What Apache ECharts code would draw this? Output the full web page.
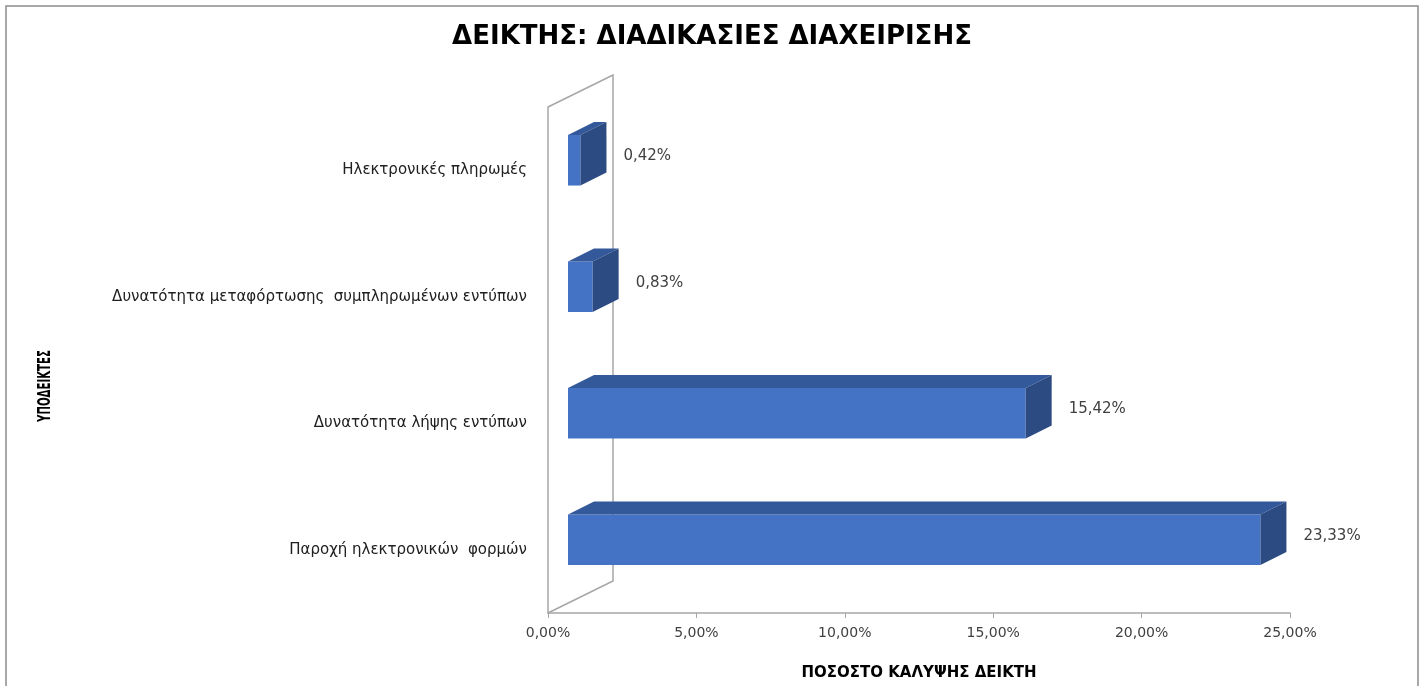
<!DOCTYPE html>
<html>
<head>
<meta charset="utf-8">
<script src="https://cdn.jsdelivr.net/npm/echarts@6/dist/echarts.min.js"></script>
<style>
  html, body { margin: 0; padding: 0; background: #fff; }
  #main { width: 1424px; height: 686px; }
</style>
</head>
<body>
<div id="main"></div>
<script>
// υποδείκτες, από κάτω προς τα πάνω
var categories = [
  'Παροχή ηλεκτρονικών  φορμών',
  'Δυνατότητα λήψης εντύπων',
  'Δυνατότητα μεταφόρτωσης  συμπληρωμένων εντύπων',
  'Ηλεκτρονικές πληρωμές'
];
var values = [23.33, 15.42, 0.83, 0.42];
var xTicks = [0, 5, 10, 15, 20, 25];

var font = 'DejaVu Sans';
var front = '#4472C4';
var topColor = '#34599A';
var sideColor = '#2C4B82';

function pct(v) {
  return v.toFixed(2).replace('.', ',') + '%';
}

var chart = echarts.init(document.getElementById('main'), null, { renderer: 'canvas' });

function renderBar(params, api) {
  var cat = api.value(0);
  var val = api.value(1);
  var p0 = api.coord([0, cat]);
  var p1 = api.coord([val, cat]);
  var band = api.size([0, 1])[1];
  var h = band * 0.4;
  var dx = 26, dy = -13;
  var x = p0[0] + 20;
  var y = p0[1] - 10 - h / 2;
  var w = p1[0] - p0[0];
  return {
    type: 'group',
    children: [
      {
        type: 'rect',
        shape: { x: x, y: y, width: w, height: h },
        style: { fill: front }
      },
      {
        type: 'polygon',
        shape: { points: [[x, y], [x + dx, y + dy], [x + w + dx, y + dy], [x + w, y]] },
        style: { fill: topColor }
      },
      {
        type: 'polygon',
        shape: { points: [[x + w, y], [x + w + dx, y + dy], [x + w + dx, y + h + dy], [x + w, y + h]] },
        style: { fill: sideColor }
      },
      {
        type: 'text',
        x: x + w + dx + 17,
        y: y + h / 2 - 4,
        style: {
          text: pct(val),
          font: '15px "' + font + '"',
          fill: '#404040',
          verticalAlign: 'middle'
        }
      }
    ]
  };
}

chart.setOption({
  animation: false,
  title: {
    text: 'ΔΕΙΚΤΗΣ: ΔΙΑΔΙΚΑΣΙΕΣ ΔΙΑΧΕΙΡΙΣΗΣ',
    left: 'center',
    top: 19,
    textStyle: { fontFamily: font, fontSize: 26, fontWeight: 'bold', color: '#000' }
  },
  grid: { left: 548, right: 134, top: 107, bottom: 69 },
  xAxis: {
    type: 'value',
    min: xTicks[0],
    max: xTicks[xTicks.length - 1],
    interval: 5,
    name: 'ΠΟΣΟΣΤΟ ΚΑΛΥΨΗΣ ΔΕΙΚΤΗ',
    nameLocation: 'middle',
    nameGap: 53,
    nameTextStyle: { fontFamily: font, fontSize: 15, fontWeight: 'bold', color: '#000' },
    axisLine: { show: true, lineStyle: { color: '#a6a6a6', width: 1.5 } },
    axisTick: { show: true, length: 5, lineStyle: { color: '#a6a6a6' } },
    axisLabel: { formatter: pct, fontFamily: font, fontSize: 14, color: '#404040', margin: 13 },
    splitLine: { show: false }
  },
  yAxis: {
    type: 'category',
    data: categories,
    axisLine: { show: true, lineStyle: { color: '#a6a6a6', width: 1.5 } },
    axisTick: { show: false },
    axisLabel: { fontFamily: font, fontSize: 15, color: '#202020', margin: 21 }
  },
  series: [{
    type: 'custom',
    renderItem: renderBar,
    encode: { x: 1, y: 0 },
    data: values.map(function (v, i) { return [i, v]; })
  }]
});

// όνομα άξονα Υ, στενή γραμματοσειρά
var yName = 'ΥΠΟΔΕΙΚΤΕΣ';
var yFont = 'bold 18px "DejaVu Sans Condensed", "DejaVu Sans"';
var ctx = document.createElement('canvas').getContext('2d');
ctx.font = yFont;
var yScale = 72 / ctx.measureText(yName).width;

// τοίχωμα 3Δ και πλαίσιο
var grid = chart.getModel().getComponent('grid').coordinateSystem.getRect();
var x0 = grid.x, yTop = grid.y, yBot = grid.y + grid.height;
chart.setOption({
  graphic: [
    {
      type: 'rect',
      shape: { x: 6, y: 6, width: 1412, height: 700 },
      style: { fill: null, stroke: '#8c8c8c', lineWidth: 1.5 },
      silent: true
    },
    {
      type: 'polyline',
      shape: { points: [[x0, yTop], [x0 + 65, yTop - 32], [x0 + 65, yBot - 32], [x0, yBot]] },
      style: { fill: null, stroke: '#a6a6a6', lineWidth: 1.5 },
      silent: true
    },
    {
      type: 'text',
      x: 45,
      y: 386,
      rotation: Math.PI / 2,
      scaleX: yScale,
      style: {
        text: yName,
        font: yFont,
        fill: '#000',
        align: 'center',
        verticalAlign: 'middle'
      },
      silent: true
    }
  ]
});
</script>
</body>
</html>
